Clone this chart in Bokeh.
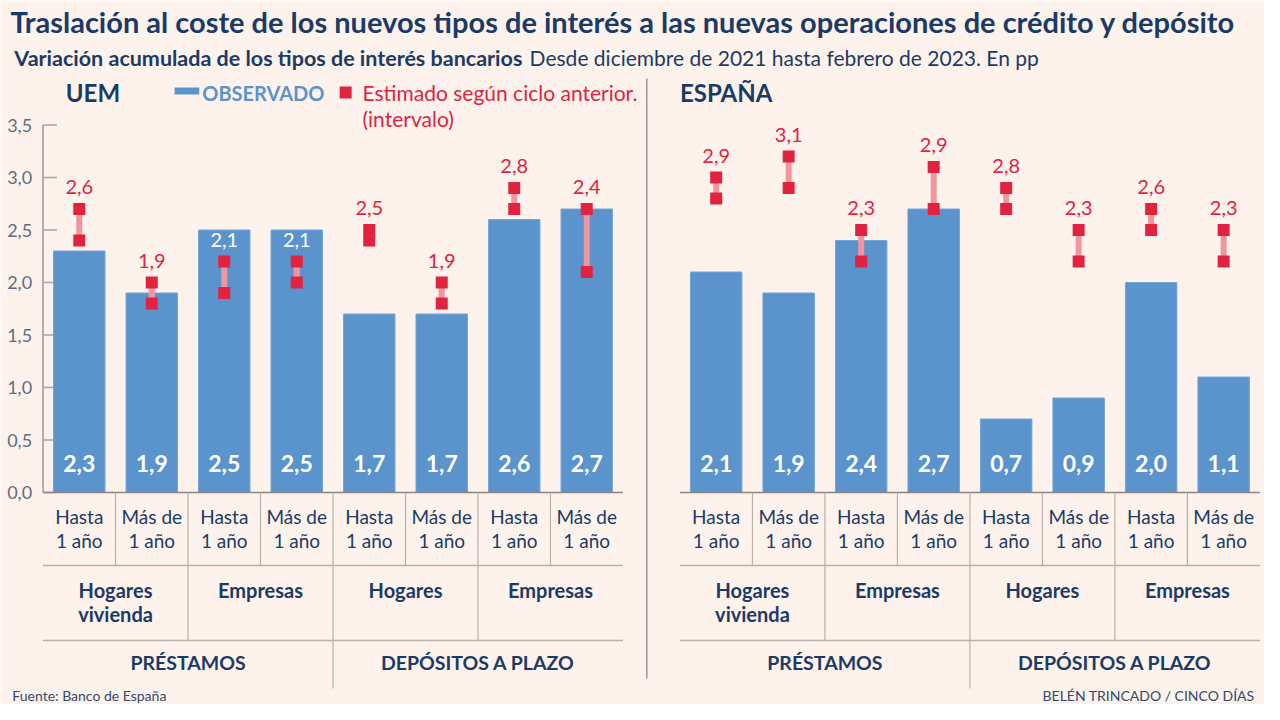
from bokeh.plotting import figure
from bokeh.models import Range1d
from bokeh.core.properties import value
from bokeh.embed import file_html
from bokeh.resources import INLINE

# ---------------- data ----------------
sub_categories = ["Hasta\n1 año", "Más de\n1 año"] * 4
groups = ["Hogares\nvivienda", "Empresas", "Hogares", "Empresas"]
sections = ["PRÉSTAMOS", "DEPÓSITOS A PLAZO"]
y_ticks = [0.0, 0.5, 1.0, 1.5, 2.0, 2.5, 3.0, 3.5]
panels = ["UEM", "ESPAÑA"]

uem_observed = [2.3, 1.9, 2.5, 2.5, 1.7, 1.7, 2.6, 2.7]
uem_est_low = [2.4, 1.8, 1.9, 2.0, 2.4, 1.8, 2.7, 2.1]
uem_est_high = [2.7, 2.0, 2.2, 2.2, 2.5, 2.0, 2.9, 2.7]
uem_est_label = ["2,6", "1,9", "2,1", "2,1", "2,5", "1,9", "2,8", "2,4"]

esp_observed = [2.1, 1.9, 2.4, 2.7, 0.7, 0.9, 2.0, 1.1]
esp_est_low = [2.8, 2.9, 2.2, 2.7, 2.7, 2.2, 2.5, 2.2]
esp_est_high = [3.0, 3.2, 2.5, 3.1, 2.9, 2.5, 2.7, 2.5]
esp_est_label = ["2,9", "3,1", "2,3", "2,9", "2,8", "2,3", "2,6", "2,3"]

title = "Traslación al coste de los nuevos tipos de interés a las nuevas operaciones de crédito y depósito"
subtitle_bold = "Variación acumulada de los tipos de interés bancarios"
subtitle_rest = "Desde diciembre de 2021 hasta febrero de 2023. En pp"
legend_obs = "OBSERVADO"
legend_est = ["Estimado según ciclo anterior.", "(intervalo)"]
source_txt = "Fuente: Banco de España"
credit_txt = "BELÉN TRINCADO / CINCO DÍAS"

# ---------------- layout ----------------
W, H = 1264, 704
SX = 0.989       # horizontal squeeze so that the full layout fits
CELL = 73.3      # layout px per category cell
UNIT = 105.0     # px per 1 pp
FONT = value("Lato")

BG = "#fdf3ec"
NAVY = "#1b3a68"
BLUE = "#5b93cd"
RED = "#e2233f"
PINK = "#f2959f"
GRID = "#b9b0a9"
TICKC = "#5d6d82"


def X(px):  # layout pixel -> data x
    return -0.5 + (px - 43) / CELL


def Y(py):  # layout pixel -> data y
    return (492 - py) / UNIT


RIGHT_SHIFT = (687 - 43) / CELL

p = figure(width=W, height=H, x_range=Range1d(X(0), X(W / SX)),
           y_range=Range1d(Y(H), Y(0)), x_axis_type=None, y_axis_type=None,
           toolbar_location=None, output_backend="svg", min_border=0)
p.outline_line_color = None
p.background_fill_color = BG
p.border_fill_color = BG
p.xgrid.visible = False
p.ygrid.visible = False


def txt(x, y, t, size, color, style="normal", align="left", baseline="middle", lh=1.2):
    p.text(x=[x], y=[y], text=[t], text_font=FONT, text_font_size=f"{size}px",
           text_color=color, text_font_style=style, text_align=align,
           text_baseline=baseline, text_line_height=lh)


# titles
txt(X(10), Y(21), title, 29, NAVY, "bold")
txt(X(14), Y(57), subtitle_bold, 21.5, NAVY, "bold")
txt(X(535), Y(57), subtitle_rest, 21, NAVY)

# footer
txt(X(12), Y(695), source_txt, 14, "#34496b")
txt(X(1268), Y(695), credit_txt, 14, "#34496b", align="right")

# divider between panels
p.segment(x0=[X(653.5)], y0=[Y(78)], x1=[X(653.5)], y1=[Y(678)],
          line_color="#9e9792", line_width=1.5)

# legend
p.quad(left=[X(176)], right=[X(201)], bottom=[Y(94)], top=[Y(87)],
       fill_color=BLUE, line_color=None)
txt(X(204), Y(92), legend_obs, 20, BLUE, "bold")
p.scatter(x=[X(349)], y=[Y(92)], marker="square", size=12, fill_color=RED, line_color=None)
txt(X(366), Y(92), legend_est[0], 21, RED)
txt(X(366), Y(118), legend_est[1], 21, RED)

# y axis for UEM panel
p.segment(x0=[X(43)], y0=[0], x1=[X(43)], y1=[max(y_ticks)], line_color="#9e9792", line_width=1.5)
p.segment(x0=[X(43)] * len(y_ticks), y0=y_ticks, x1=[X(57)] * len(y_ticks), y1=y_ticks,
          line_color="#aaa39e", line_width=1.5)
p.text(x=[X(32)] * len(y_ticks), y=y_ticks,
       text=[f"{t:.1f}".replace(".", ",") for t in y_ticks],
       text_font=FONT, text_font_size="18px", text_color=TICKC,
       text_align="right", text_baseline="middle")

panel_data = [
    (uem_observed, uem_est_low, uem_est_high, uem_est_label, 0.0),
    (esp_observed, esp_est_low, esp_est_high, esp_est_label, RIGHT_SHIFT),
]
panel_heading_px = [66, 687]

for k, (obs, lo, hi, lab, shift) in enumerate(panel_data):
    n = len(obs)
    xs = [i + shift for i in range(n)]
    left, right = shift - 0.5, shift + n - 0.5

    txt(X(panel_heading_px[k]), Y(92), panels[k], 24, NAVY, "bold")

    # bars
    p.vbar(x=xs, top=obs, bottom=0, width=0.71, fill_color=BLUE, line_color="#73a6da", line_width=1)
    # bar value labels
    p.text(x=xs, y=[Y(463)] * n, text=[f"{v:.1f}".replace(".", ",") for v in obs],
           text_font=FONT, text_font_size="23px", text_font_style="bold",
           text_color="white", text_align="center", text_baseline="middle")

    # estimate interval
    p.segment(x0=xs, y0=lo, x1=xs, y1=hi, line_color=PINK, line_width=6)
    p.scatter(x=xs + xs, y=lo + hi, marker="square", size=12, fill_color=RED, line_color=None)
    off = 22 / UNIT
    lab_y = [h + off for h in hi]
    lab_c = ["white" if ly < o else RED for ly, o in zip(lab_y, obs)]
    p.text(x=xs, y=lab_y, text=lab, text_font=FONT, text_font_size="20px",
           text_color=lab_c, text_align="center", text_baseline="middle")

    # table lines
    for yy in [492, 565, 640]:
        p.segment(x0=[left], y0=[Y(yy)], x1=[right], y1=[Y(yy)],
                  line_color="#8c8580" if yy == 492 else GRID, line_width=1.5)
    bx1 = [shift + i + 0.5 for i in range(n - 1)]
    p.segment(x0=bx1, y0=[Y(492)] * len(bx1), x1=bx1, y1=[Y(565)] * len(bx1),
              line_color=GRID, line_width=1.2)
    bx2 = [shift + 2 * i + 1.5 for i in range(len(groups) - 1)]
    p.segment(x0=bx2, y0=[Y(565)] * len(bx2), x1=bx2, y1=[Y(640)] * len(bx2),
              line_color=GRID, line_width=1.2)
    bx3 = [shift + n / 2 - 0.5]
    p.segment(x0=bx3, y0=[Y(640)], x1=bx3, y1=[Y(688)], line_color=GRID, line_width=1.2)

    # table text
    p.text(x=xs, y=[Y(504)] * n, text=sub_categories, text_font=FONT, text_font_size="19px",
           text_color=NAVY, text_align="center", text_baseline="top", text_line_height=1.05)
    gx = [shift + 2 * i + 0.5 for i in range(len(groups))]
    p.text(x=gx, y=[Y(577)] * len(groups), text=groups, text_font=FONT, text_font_size="20px",
           text_font_style="bold", text_color=NAVY, text_align="center", text_baseline="top",
           text_line_height=1.0)
    sx = [shift + 1.5, shift + 5.5]
    p.text(x=sx, y=[Y(662)] * 2, text=sections, text_font=FONT, text_font_size="19.5px",
           text_font_style="bold", text_color=NAVY, text_align="center", text_baseline="middle")

open("out.html", "w").write(file_html(p, INLINE))
